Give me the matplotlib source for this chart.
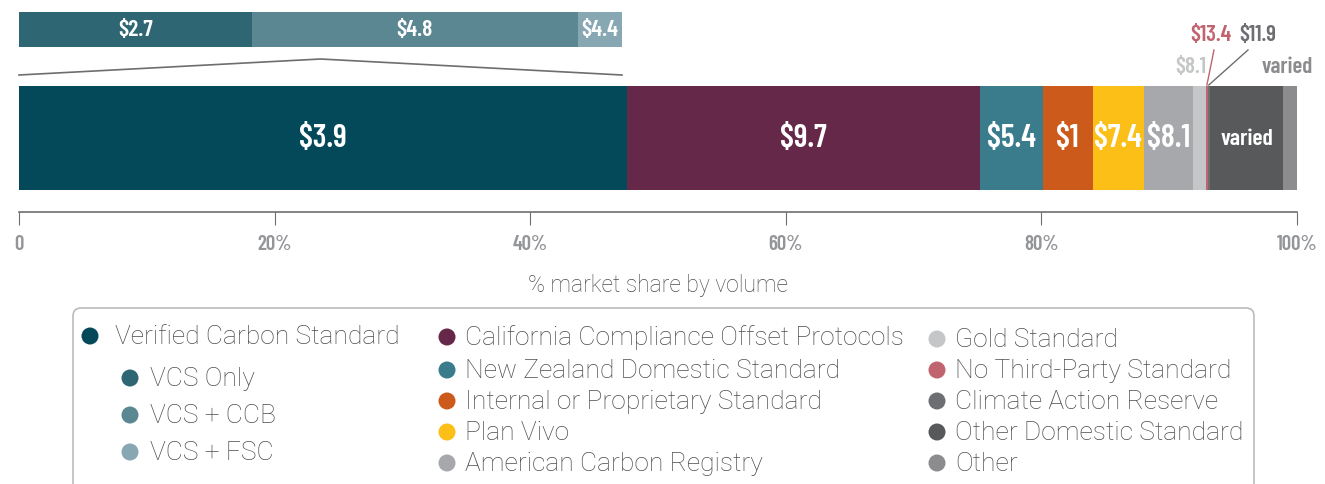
import matplotlib
matplotlib.use("Agg")
import matplotlib.pyplot as plt
from matplotlib.patches import FancyBboxPatch
import numpy as np

# ---------------- data ----------------
main_names = ["Verified Carbon Standard", "California Compliance Offset Protocols",
              "New Zealand Domestic Standard", "Internal or Proprietary Standard",
              "Plan Vivo", "American Carbon Registry", "Gold Standard",
              "No Third-Party Standard", "Climate Action Reserve",
              "Other Domestic Standard", "Other"]
main_share = [47.6, 27.6, 4.9, 3.9, 4.0, 3.9, 1.0, 0.1, 0.2, 5.7, 1.1]
main_labels = ["$3.9", "$9.7", "$5.4", "$1", "$7.4", "$8.1", "", "", "", "varied", ""]
main_colors = ["#03495a", "#652849", "#3a7b8c", "#cc5a1a", "#fbbf17", "#a7a8ab",
               "#c5c6c8", "#c0646f", "#6d6e71", "#58595b", "#8c8c8e"]

vcs_names = ["VCS Only", "VCS + CCB", "VCS + FSC"]
vcs_share = [18.4, 25.7, 3.5]
vcs_labels = ["$2.7", "$4.8", "$4.4"]
vcs_colors = ["#2f6674", "#5b8793", "#87a8b2"]

# small-slice callouts: (segment index, label, colour)
callouts = [(6, "$8.1", "#c5c6c8"), (7, "$13.4", "#c0646f"),
            (8, "$11.9", "#6d6e71"), (10, "varied", "#8c8c8e")]

xticks = [0, 20, 40, 60, 80, 100]
xticklabels = ["0", "20%", "40%", "60%", "80%", "100%"]
xlabel = "% market share by volume"

# ---------------- figure ----------------
W, H = 1325, 485
fig = plt.figure(figsize=(W / 100, H / 100), dpi=100)
COND = ["Barlow Condensed", "DejaVu Sans"]
LIGHT = ["Roboto", "DejaVu Sans"]
TXT = "#4d4d4f"

def fx(px):
    return px / W

def fy(py):
    return 1 - py / H

# overlay axes in pixel coordinates (for connectors, legend)
ov = fig.add_axes([0, 0, 1, 1])
ov.set_xlim(0, W)
ov.set_ylim(H, 0)
ov.axis("off")
ov.set_zorder(0)

# main bar axes
L, R = 19, 1297
ax = fig.add_axes([fx(L), fy(191), fx(R - L), 104 / H])
ax.set_zorder(2)
left = 0.0
for share, lab, col in zip(main_share, main_labels, main_colors):
    ax.barh(0, share, left=left, height=1.0, color=col, edgecolor="none")
    if lab:
        small = lab == "varied"
        ax.text(left + share / 2, 0, lab, ha="center", va="center", color="white",
                fontsize=17 if small else 23, fontweight=600, family=COND)
    left += share
ax.set_xlim(0, 100)
ax.set_ylim(-0.5, 0.5)
ax.patch.set_alpha(0)
for s in ["top", "left", "right"]:
    ax.spines[s].set_visible(False)
ax.spines["bottom"].set_position(("outward", 16))
ax.spines["bottom"].set_color("#6d6e71")
ax.spines["bottom"].set_linewidth(1.2)
ax.set_yticks([])
ax.set_xticks(xticks)
ax.set_xticklabels(xticklabels, family=COND, fontweight=600, fontsize=15,
                   color="#939598")
ax.tick_params(axis="x", length=9, width=0.8, color="#6d6e71", pad=7)
ax.set_xlabel(xlabel, family=LIGHT, fontweight="light", fontsize=16.5,
              color=TXT, labelpad=14)

# callouts for thin segments
cum = np.concatenate([[0], np.cumsum(main_share)])
x2px = lambda v: L + v / 100 * (R - L)
callout_pos = {6: (1191, 67), 7: (1211, 35), 8: (1258, 35), 10: (1287, 67)}
for idx, lab, col in callouts:
    tx, ty = callout_pos[idx]
    ov.text(tx, ty, lab, ha="center", va="center", color=col, fontsize=16.5,
            fontweight=600, family=COND)
    if idx in (7, 8):
        mid = x2px((cum[idx] + cum[idx + 1]) / 2)
        x0 = 1214 if idx == 7 else 1248
        ov.plot([x0, mid], [51, 86], color=col, lw=1)

# inset bar (VCS breakdown)
iL, iR = 19, 622
ax2 = fig.add_axes([fx(iL), fy(48), fx(iR - iL), 35 / H])
left = 0.0
for share, lab, col in zip(vcs_share, vcs_labels, vcs_colors):
    ax2.barh(0, share, left=left, height=1.0, color=col, edgecolor="none")
    ax2.text(left + share / 2, 0, lab, ha="center", va="center", color="white",
             fontsize=17, fontweight=600, family=COND)
    left += share
ax2.set_xlim(0, sum(vcs_share))
ax2.set_ylim(-0.5, 0.5)
ax2.axis("off")

# connector
ov.plot([iL, (iL + iR) / 2, iR], [76, 60, 76], color="#6d6e71", lw=1.2)

# legend box
box = FancyBboxPatch((73, 309), 1254 - 73, 200, boxstyle="round,pad=0,rounding_size=8",
                     facecolor="white", edgecolor="#bbbbbb", lw=1.2)
ov.add_patch(box)
leg_col = [
    [("Verified Carbon Standard", main_colors[0], 90, 115, 337)]
    + [(n, c, 130, 150, y) for n, c, y in zip(vcs_names, vcs_colors, [379, 416, 453])],
    [(main_names[i], main_colors[i], 447, 465, y)
     for i, y in zip([1, 2, 3, 4, 5], [338, 371, 402, 433, 464])],
    [(main_names[i], main_colors[i], 937, 955, y)
     for i, y in zip([6, 7, 8, 9, 10], [340, 371, 402, 433, 464])],
]
for col in leg_col:
    for name, c, mx, tx, y in col:
        ov.scatter([mx], [y], s=150, color=c, edgecolor="none", zorder=3)
        ov.text(tx, y, name, ha="left", va="center", fontsize=19,
                family=LIGHT, fontweight="light", color=TXT)

fig.savefig("out.png", dpi=100)
